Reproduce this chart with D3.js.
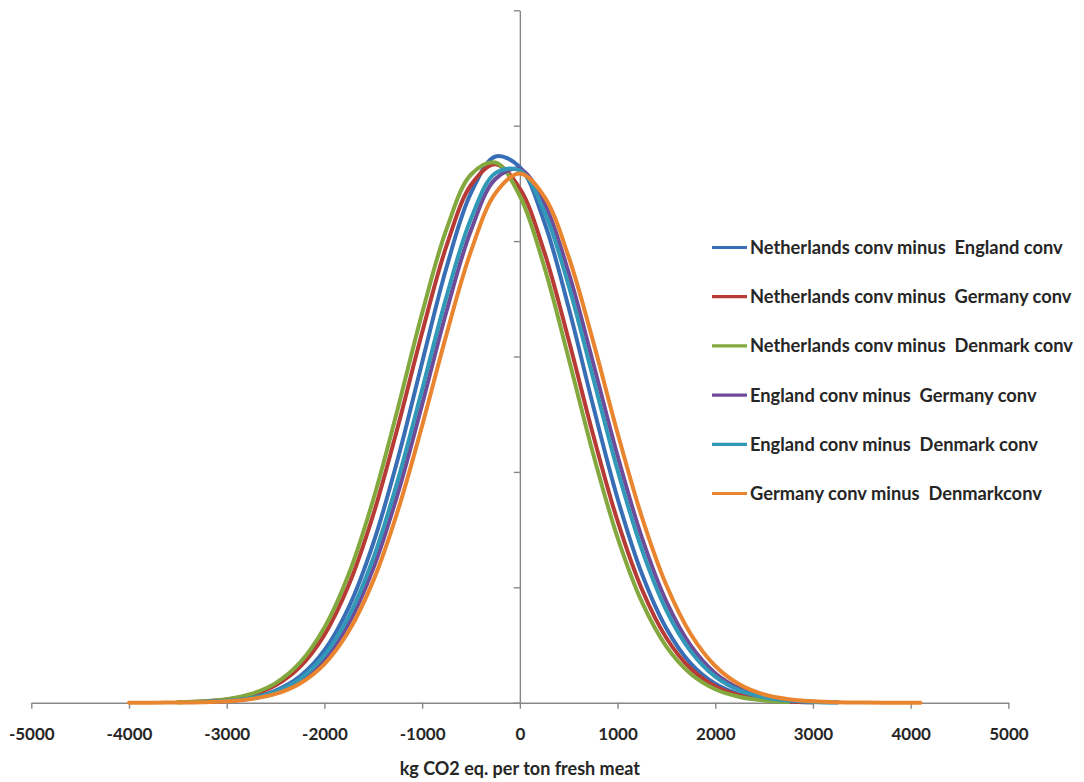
<!DOCTYPE html>
<html>
<head>
<meta charset="utf-8">
<script src="https://cdn.jsdelivr.net/npm/d3@7"></script>
<style>
  body { margin: 0; background: #fff; }
  text { font-family: Lato, "Open Sans", sans-serif; font-weight: 700; fill: #262626; white-space: pre; }
</style>
</head>
<body>
<div id="chart"></div>
<script>
// x grid shared by all series (kg CO2 eq. per ton fresh meat)
var xValues = [-4000, -3750, -3500, -3250, -3000, -2750, -2500, -2250, -2000, -1750, -1500, -1250,
  -1000, -750, -500, -250, 0, 250, 500, 750, 1000, 1250, 1500, 1750, 2000, 2250, 2500, 2750,
  3000, 3250, 3500, 3750, 4000, 4100];

// y in units of 1e-4 (no labels on the y axis)
var nlEngland = [null, null, null, 0.006, 0.017, 0.044, 0.105, 0.228, 0.454, 0.828, 1.382, 2.110,
  2.949, 3.773, 4.417, 4.733, 4.641, 4.166, 3.422, 2.573, 1.770, 1.115, 0.643, 0.339, 0.164, 0.072,
  0.029, 0.011, 0.004, null, null, null, null, null];
var nlGermany = [null, null, 0.004, 0.010, 0.028, 0.067, 0.151, 0.311, 0.588, 1.022, 1.630, 2.387,
  3.208, 3.960, 4.486, 4.666, 4.455, 3.906, 3.143, 2.322, 1.575, 0.981, 0.561, 0.294, 0.142, 0.063,
  0.026, 0.010, 0.003, null, null, null, null, null];
var nlDenmark = [null, null, 0.004, 0.012, 0.031, 0.076, 0.170, 0.347, 0.651, 1.117, 1.761, 2.546,
  3.376, 4.105, 4.577, 4.681, 4.391, 3.777, 2.981, 2.157, 1.431, 0.871, 0.486, 0.249, 0.117, 0.050,
  0.020, 0.007, null, null, null, null, null, null];
var enGermany = [null, null, null, 0.005, 0.014, 0.036, 0.086, 0.187, 0.374, 0.688, 1.164, 1.810,
  2.585, 3.394, 4.094, 4.538, 4.624, 4.329, 3.724, 2.944, 2.140, 1.428, 0.876, 0.494, 0.256, 0.122,
  0.053, 0.022, 0.008, 0.003, null, null, null, null];
var enDenmark = [null, null, null, 0.006, 0.016, 0.041, 0.096, 0.207, 0.411, 0.748, 1.252, 1.924,
  2.715, 3.521, 4.194, 4.589, 4.612, 4.258, 3.612, 2.814, 2.014, 1.324, 0.799, 0.444, 0.226, 0.106,
  0.046, 0.018, 0.007, 0.002, null, null, null, null];
var deDenmark = [0.0001, 0.0004, 0.0015, 0.0045, 0.0125, 0.032, 0.076, 0.167, 0.335, 0.621, 1.058,
  1.661, 2.400, 3.194, 3.913, 4.415, 4.586, 4.386, 3.862, 3.131, 2.337, 1.606, 1.017, 0.593, 0.318,
  0.157, 0.071, 0.030, 0.012, 0.004, 0.0013, 0.0004, 0.0001, 0.0001];

var seriesNames = ["Netherlands conv minus  England conv", "Netherlands conv minus  Germany conv",
  "Netherlands conv minus  Denmark conv", "England conv minus  Germany conv",
  "England conv minus  Denmark conv", "Germany conv minus  Denmarkconv"];
var seriesValues = [nlEngland, nlGermany, nlDenmark, enGermany, enDenmark, deDenmark];
var colors = ["#386EB5", "#B83A35", "#82A83E", "#6E4C9A", "#3199B7", "#E9852E"];

var xTicks = [-5000, -4000, -3000, -2000, -1000, 0, 1000, 2000, 3000, 4000, 5000];
var yTicks = [0, 1, 2, 3, 4, 5, 6];

var w = 1084, h = 782;

var svg = d3.select("#chart").append("svg")
    .attr("width", w)
    .attr("height", h);

var x = d3.scaleLinear().domain([-5000, 5000]).range([31.3, 1008.4]);
var y = d3.scaleLinear().domain([0, 6]).range([702.7, 10.3]);

// x axis
var xAxis = svg.append("g")
    .attr("transform", "translate(0," + y(0) + ")")
    .call(d3.axisBottom(x).tickValues(xTicks).tickSize(6).tickSizeOuter(0)
        .tickFormat(d => String(d)));
xAxis.selectAll("text")
    .attr("y", 25)
    .style("font-size", "17px")
    .style("font-family", "Lato, sans-serif")
    .style("font-weight", 700)
    .attr("fill", "#262626");

// y axis, crossing at 0, no labels
var yAxis = svg.append("g")
    .attr("transform", "translate(" + x(0) + ",0)")
    .call(d3.axisLeft(y).tickValues(yTicks).tickSize(6).tickSizeOuter(0).tickFormat(""));

svg.selectAll(".domain, .tick line")
    .attr("stroke", "#878787")
    .attr("stroke-width", 1.4);

// curves
var line = d3.line()
    .defined(d => d[1] != null)
    .x(d => x(d[0]))
    .y(d => y(d[1]))
    .curve(d3.curveCatmullRom);

seriesValues.forEach(function(vals, i) {
    svg.append("path")
        .datum(xValues.map((xv, j) => [xv, vals[j]]))
        .attr("fill", "none")
        .attr("stroke", colors[i])
        .attr("stroke-width", 4)
        .attr("stroke-linejoin", "round")
        .attr("stroke-linecap", "round")
        .attr("d", line);
});

// legend
var legend = svg.append("g").attr("transform", "translate(712,247.5)");
seriesNames.forEach(function(name, i) {
    var row = legend.append("g").attr("transform", "translate(0," + (i * 49.2) + ")");
    row.append("line")
        .attr("x1", 0).attr("x2", 35)
        .attr("stroke", colors[i])
        .attr("stroke-width", 3.2);
    row.append("text")
        .attr("x", 38)
        .attr("dy", "0.36em")
        .style("font-size", "18.3px")
        .text(name);
});

// axis title
svg.append("text")
    .attr("x", x(0))
    .attr("y", 775)
    .attr("text-anchor", "middle")
    .style("font-size", "18px")
    .text("kg CO2 eq. per ton fresh meat");
</script>
</body>
</html>
